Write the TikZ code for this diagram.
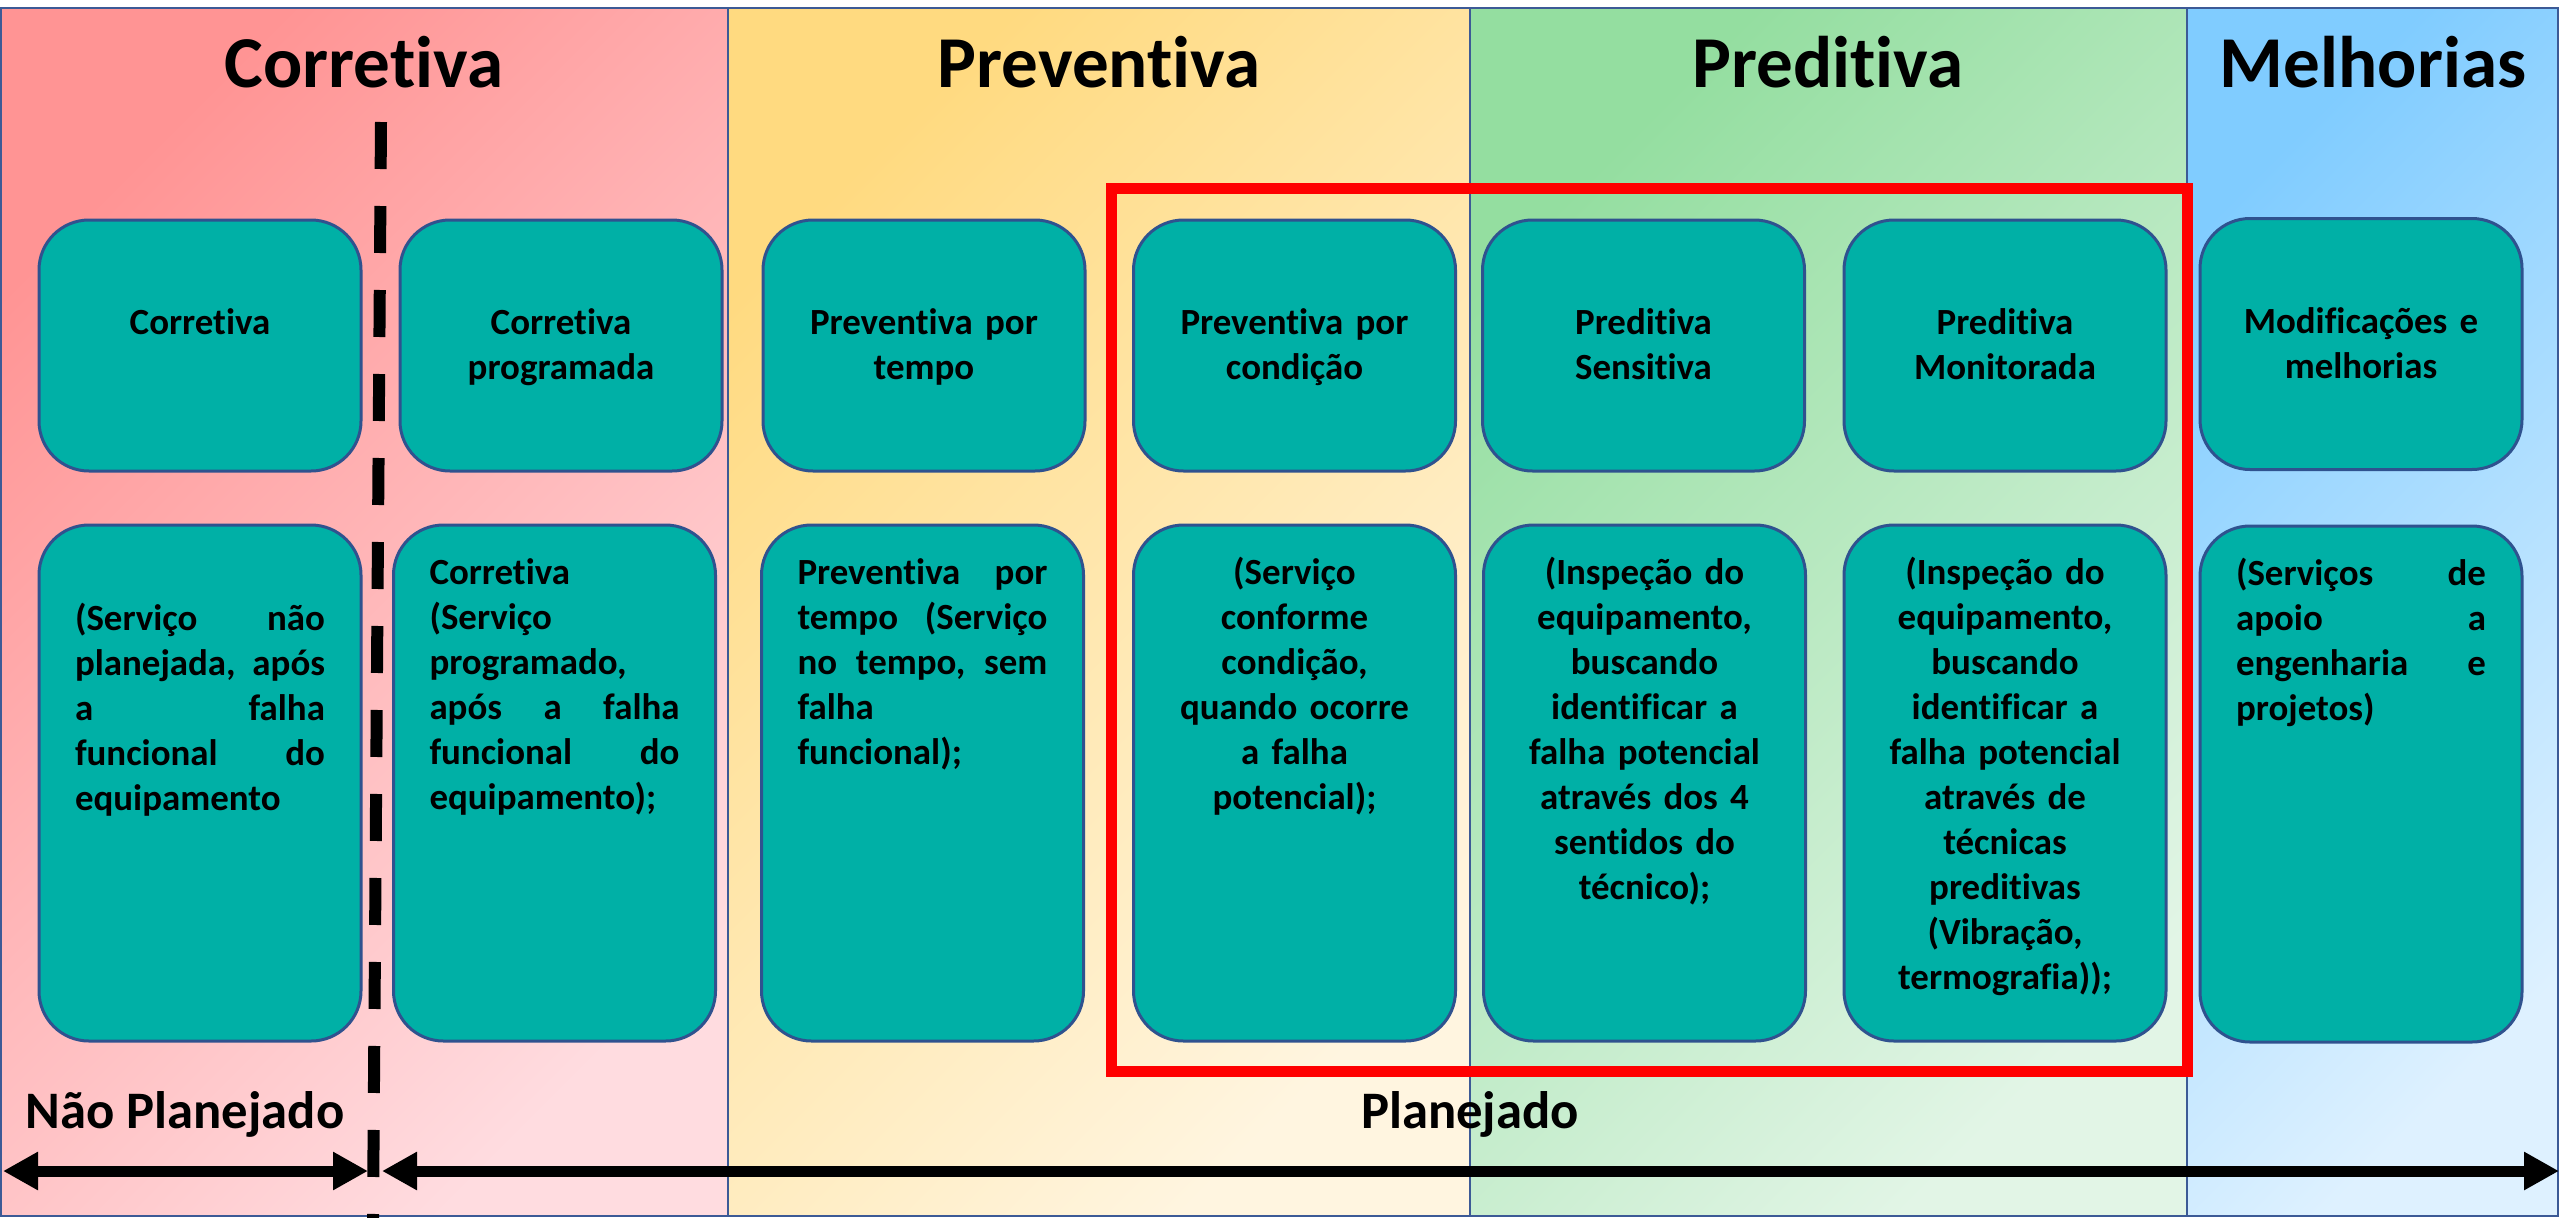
\documentclass[tikz,border=0pt]{standalone}
\usepackage{fontspec}
\setmainfont{Carlito}[Ligatures={NoCommon,NoRare,NoContextual}]
\usepackage{xcolor}
\usetikzlibrary{positioning}
\usetikzlibrary{arrows.meta}
\definecolor{boxfill}{RGB}{0,176,166}
\definecolor{boxline}{RGB}{47,82,143}
\definecolor{panelline}{RGB}{60,90,150}
\definecolor{corA}{RGB}{255,148,148}
\definecolor{corB}{RGB}{255,220,224}
\definecolor{preA}{RGB}{255,218,128}
\definecolor{preB}{RGB}{255,245,224}
\definecolor{prdA}{RGB}{148,222,160}
\definecolor{prdB}{RGB}{226,245,230}
\definecolor{melA}{RGB}{128,204,255}
\definecolor{melB}{RGB}{222,241,255}
\newcommand{\jline}[1]{\leavevmode\hbox to 2.5cm{#1}}
\newcommand{\lline}[1]{\leavevmode\hbox to 2.5cm{#1\hfil}}

\begin{document}
\begin{tikzpicture}[
  panel/.style 2 args={top color=#1,bottom color=#2,shading angle=45,draw=panelline,line width=.02cm},
  box/.style={draw=boxline,line width=.03cm,fill=boxfill,rounded corners=.5cm,minimum width=3.22cm,inner sep=0},
  topbox/.style={box,minimum height=2.51cm},
  lowbox/.style={box,minimum height=5.16cm},
  boxtext/.style={inner sep=0,text width=2.9cm,align=center,font=\fontsize{10.5}{12.8}\selectfont\bfseries,execute at begin node=\strut},
  jbox/.style={boxtext,text width=2.5cm,align=left},
  title/.style={anchor=base,font=\fontsize{20.8}{25}\selectfont\bfseries},
  lbl/.style={anchor=base,font=\fontsize{15}{18}\selectfont\bfseries},
  redframe/.style={draw=red,line width=.11cm},
  divline/.style={line width=.12cm,dash pattern=on .47cm off .37cm},
  bigarrow/.style={line width=.11cm,>={Triangle[length=.35cm,width=.36cm]}}
  ]
  \useasboundingbox (0,0) rectangle (25.6,-12.18);
  \path[panel={corA}{corB}] (0.01,-0.08) rectangle (7.28,-12.16);
  \path[panel={preA}{preB}] (7.28,-0.08) rectangle (14.70,-12.16);
  \path[panel={prdA}{prdB}] (14.70,-0.08) rectangle (21.87,-12.16);
  \path[panel={melA}{melB}] (21.87,-0.08) rectangle (25.58,-12.16);

  \node[title] (tcor) at (3.64,-0.87) {Corretiva};
  \node[title] (tpre) at (10.99,-0.87) {Preventiva};
  \node[title] (tprd) at (18.28,-0.87) {Preditiva};
  \node[title] (tmel) at (23.73,-0.87) {Melhorias};

  \draw[redframe] (11.11,-1.88) rectangle (21.87,-10.71);

  \node[topbox] (cor) at (2.00,-3.455) {};
  \node[topbox] (cpr) at (5.61,-3.455) {};
  \node[topbox] (ptp) at (9.24,-3.455) {};
  \node[topbox] (pcd) at (12.945,-3.455) {};
  \node[topbox] (dse) at (16.435,-3.455) {};
  \node[topbox] (dmo) at (20.05,-3.455) {};
  \node[topbox] (mod) at (23.61,-3.44) {};

  \node[boxtext,below=.84cm of cor.north] (cort) {Corretiva};
  \node[boxtext,below=.84cm of cpr.north] (cprt) {Corretiva\\programada};
  \node[boxtext,below=.84cm of ptp.north] (ptpt) {Preventiva por\\tempo};
  \node[boxtext,below=.84cm of pcd.north] (pcdt) {Preventiva por\\condição};
  \node[boxtext,below=.84cm of dse.north] (dset) {Preditiva\\Sensitiva};
  \node[boxtext,below=.84cm of dmo.north] (dmot) {Preditiva\\Monitorada};
  \node[boxtext,below=.84cm of mod.north] (modt) {Modificações e\\melhorias};

  \node[lowbox] (cor2) at (2.00,-7.83) {};
  \node[lowbox] (cpr2) at (5.545,-7.83) {};
  \node[lowbox] (ptp2) at (9.225,-7.83) {};
  \node[lowbox] (pcd2) at (12.945,-7.83) {};
  \node[lowbox] (dse2) at (16.445,-7.83) {};
  \node[lowbox] (dmo2) at (20.05,-7.83) {};
  \node[lowbox] (mod2) at (23.61,-7.84) {};

  \node[jbox,below=.745cm of cor2.north] (cor2t) {\jline{(Serviço\hfill não}\\\jline{planejada,\hfill após}\\\jline{a\hfill falha}\\\jline{funcional\hfill do}\\\lline{equipamento}};
  \node[jbox,below=.285cm of cpr2.north] (cpr2t) {\lline{Corretiva}\\\lline{(Serviço}\\\lline{programado,}\\\jline{após\hfill a\hfill falha}\\\jline{funcional\hfill do}\\\lline{equipamento);}};
  \node[jbox,below=.285cm of ptp2.north] (ptp2t) {\jline{Preventiva\hfill por}\\\jline{tempo\hfill (Serviço}\\\jline{no\hfill tempo,\hfill sem}\\\lline{falha}\\\lline{funcional);}};
  \node[boxtext,below=.285cm of pcd2.north] (pcd2t) {(Serviço\\conforme\\condição,\\quando ocorre\\a falha\\potencial);};
  \node[boxtext,below=.285cm of dse2.north] (dse2t) {(Inspeção do\\equipamento,\\buscando\\identificar a\\falha potencial\\através dos 4\\sentidos do\\técnico);};
  \node[boxtext,below=.285cm of dmo2.north] (dmo2t) {(Inspeção do\\equipamento,\\buscando\\identificar a\\falha potencial\\através de\\técnicas\\preditivas\\(Vibração,\\termografia));};
  \node[jbox,below=.285cm of mod2.north] (mod2t) {\jline{(Serviços\hfill de}\\\jline{apoio\hfill a}\\\jline{engenharia\hfill e}\\\lline{projetos)}};

  \draw[divline] (3.81,-1.22) -- (3.73,-12.18);

  \node[lbl] (npl) at (1.85,-11.28) {Não Planejado};
  \node[lbl] (pla) at (14.70,-11.28) {Planejado};

  \coordinate (al) at (0.03,-11.71);
  \coordinate (ar) at (3.68,-11.71);
  \coordinate (bl) at (3.82,-11.71);
  \coordinate (br) at (25.59,-11.71);
  \draw[bigarrow,<->] (al) -- (ar);
  \draw[bigarrow,<->] (bl) -- (br);
\end{tikzpicture}
\end{document}
